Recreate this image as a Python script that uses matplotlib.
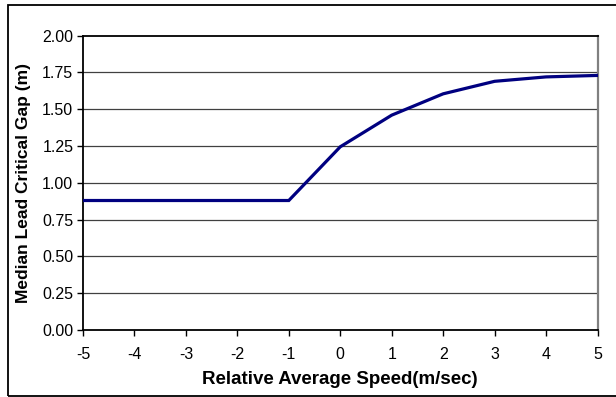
import matplotlib
matplotlib.use("Agg")
import matplotlib.pyplot as plt
from matplotlib.patches import Rectangle

# relative average speed vs median lead critical gap
speed = [-5, -4, -3, -2, -1, 0, 1, 2, 3, 4, 5]
gap = [0.88, 0.88, 0.88, 0.88, 0.88, 1.245, 1.46, 1.605, 1.69, 1.72, 1.73]
yticks = [0.00, 0.25, 0.50, 0.75, 1.00, 1.25, 1.50, 1.75, 2.00]

plt.rcParams['font.family'] = ['Liberation Sans', 'DejaVu Sans']

fig = plt.figure(figsize=(6.16, 3.97), dpi=100)
ax = fig.add_axes([83/616, 67/397, 514.5/616, 294.3/397])

for t in yticks[1:-1]:
	ax.axhline(t, color='#404040', lw=0.9, zorder=1)

ax.plot(speed, gap, color='#000080', lw=2.3, zorder=3, solid_joinstyle='miter')

ax.set_xlim(-5, 5)
ax.set_ylim(0, 2)
ax.set_xticks(speed)
ax.set_xticklabels([str(s) for s in speed])
ax.set_yticks(yticks)
ax.set_yticklabels(['%.2f' % t for t in yticks])
ax.tick_params(direction='out', length=4, width=1, labelsize=11.5, pad=3)
ax.tick_params(axis='x', pad=8)

for side in ['left', 'bottom', 'top']:
	ax.spines[side].set_linewidth(1.3)
	ax.spines[side].set_color('black')
ax.spines['right'].set_color('#808080')
ax.spines['right'].set_linewidth(1.6)

ax.set_xlabel('Relative Average Speed(m/sec)', fontsize=13.5, fontweight='bold', labelpad=7)
ax.set_ylabel('Median Lead Critical Gap (m)', fontsize=12.5, fontweight='bold', labelpad=8)

# outer frame, right edge falls off the canvas
fig.patches.append(Rectangle((7.5/616, 1.5/397), 640/616, 391/397, transform=fig.transFigure,
	fill=False, edgecolor='black', lw=1.3))

fig.savefig('out.png', dpi=100)
